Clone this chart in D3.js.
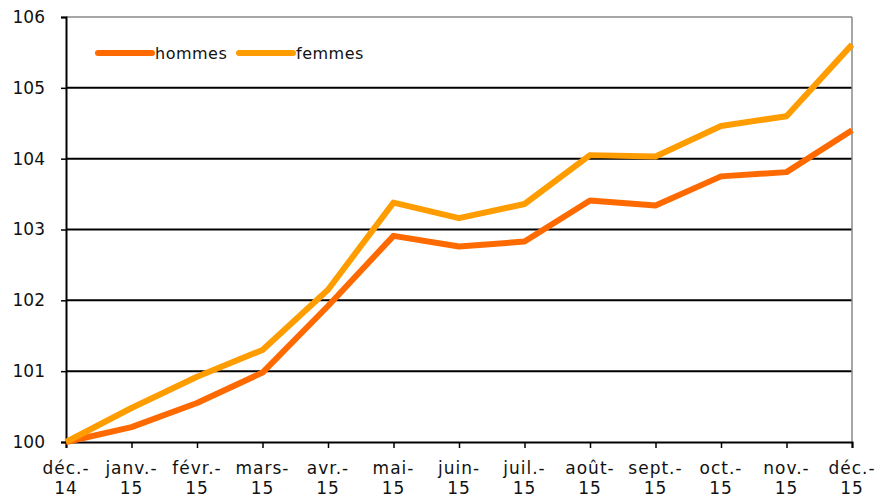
<!DOCTYPE html>
<html>
<head>
<meta charset="utf-8">
<script src="https://cdn.jsdelivr.net/npm/d3@7"></script>
<style>
  body { margin: 0; background: #fff; }
  text { font-family: "DejaVu Sans", Verdana, sans-serif; fill: #111; }
</style>
</head>
<body>
<div id="chart"></div>
<script>
var months = ["déc.-|14", "janv.-|15", "févr.-|15", "mars-|15", "avr.-|15", "mai-|15",
              "juin-|15", "juil.-|15", "août-|15", "sept.-|15", "oct.-|15", "nov.-|15", "déc.-|15"];
var hommes = [100, 100.21, 100.55, 100.98, 101.92, 102.91, 102.76, 102.83, 103.41, 103.34, 103.75, 103.81, 104.40];
var femmes = [100, 100.48, 100.92, 101.30, 102.15, 103.38, 103.16, 103.36, 104.05, 104.03, 104.46, 104.60, 105.61];
var yTicks = [100, 101, 102, 103, 104, 105, 106];

var series = [
    {name: "hommes", values: hommes, color: "#ff6a00"},
    {name: "femmes", values: femmes, color: "#ff9c00"}
];

var width = 875, height = 499;
var margin = {top: 17, right: 23, bottom: 57, left: 66};

var svg = d3.select('#chart').append('svg')
    .attr('width', width)
    .attr('height', height);

var xScale = d3.scalePoint()
    .domain(months)
    .range([margin.left, width - margin.right]);

var yScale = d3.scaleLinear()
    .domain([100, 106])
    .range([height - margin.bottom, margin.top]);

// gridlines
svg.append('g').selectAll('line')
    .data(yTicks.slice(1, -1))
    .enter().append('line')
    .attr('x1', margin.left).attr('x2', width - margin.right)
    .attr('y1', function(d) { return yScale(d); })
    .attr('y2', function(d) { return yScale(d); })
    .attr('stroke', '#000').attr('stroke-width', 2);

// frame top / right
svg.append('line')
    .attr('x1', margin.left).attr('x2', width - margin.right)
    .attr('y1', yScale(106)).attr('y2', yScale(106))
    .attr('stroke', '#888').attr('stroke-width', 1.5);
svg.append('line')
    .attr('x1', width - margin.right).attr('x2', width - margin.right)
    .attr('y1', yScale(106)).attr('y2', yScale(100))
    .attr('stroke', '#888').attr('stroke-width', 1.5);

// y axis
var yAxis = svg.append('g')
    .attr('transform', 'translate(' + margin.left + ',0)')
    .call(d3.axisLeft(yScale).tickValues(yTicks).tickSize(5).tickPadding(16).tickFormat(d3.format('d')));
yAxis.selectAll('text').style('font-size', '17px');

// x axis
var xAxis = svg.append('g')
    .attr('transform', 'translate(0,' + yScale(100) + ')')
    .call(d3.axisBottom(xScale).tickSize(6).tickFormat(''));
[yAxis, xAxis].forEach(function(a) {
    a.select('.domain').attr('stroke', '#000').attr('stroke-width', 2);
    a.selectAll('.tick line').attr('stroke', '#000').attr('stroke-width', 1.5);
});

var xl = svg.append('g').selectAll('text')
    .data(months)
    .enter().append('text')
    .attr('text-anchor', 'middle')
    .style('font-size', '17px')
    .style('letter-spacing', '1px')
    .attr('x', function(d) { return xScale(d); });
xl.append('tspan')
    .attr('x', function(d) { return xScale(d); })
    .attr('y', yScale(100) + 32)
    .text(function(d) { return d.split('|')[0]; });
xl.append('tspan')
    .attr('x', function(d) { return xScale(d); })
    .attr('y', yScale(100) + 52)
    .text(function(d) { return d.split('|')[1]; });

var line = d3.line()
    .x(function(d, i) { return xScale(months[i]); })
    .y(function(d) { return yScale(d); });

series.forEach(function(s) {
    svg.append('path')
        .attr('fill', 'none')
        .attr('stroke', s.color)
        .attr('stroke-width', 6)
        .attr('stroke-linejoin', 'round')
        .attr('d', line(s.values));
});

// legend
var legend = svg.append('g').attr('transform', 'translate(98,53)');
var lx = [0, 141];
series.forEach(function(s, i) {
    var g = legend.append('g').attr('transform', 'translate(' + lx[i] + ',0)');
    g.append('line').attr('x1', 0).attr('x2', 54)
        .attr('stroke', s.color).attr('stroke-width', 6).attr('stroke-linecap', 'round');
    g.append('text').attr('x', 57).attr('y', 6).style('font-size', '16px')
        .style('letter-spacing', '0.5px').text(s.name);
});
</script>
</body>
</html>
